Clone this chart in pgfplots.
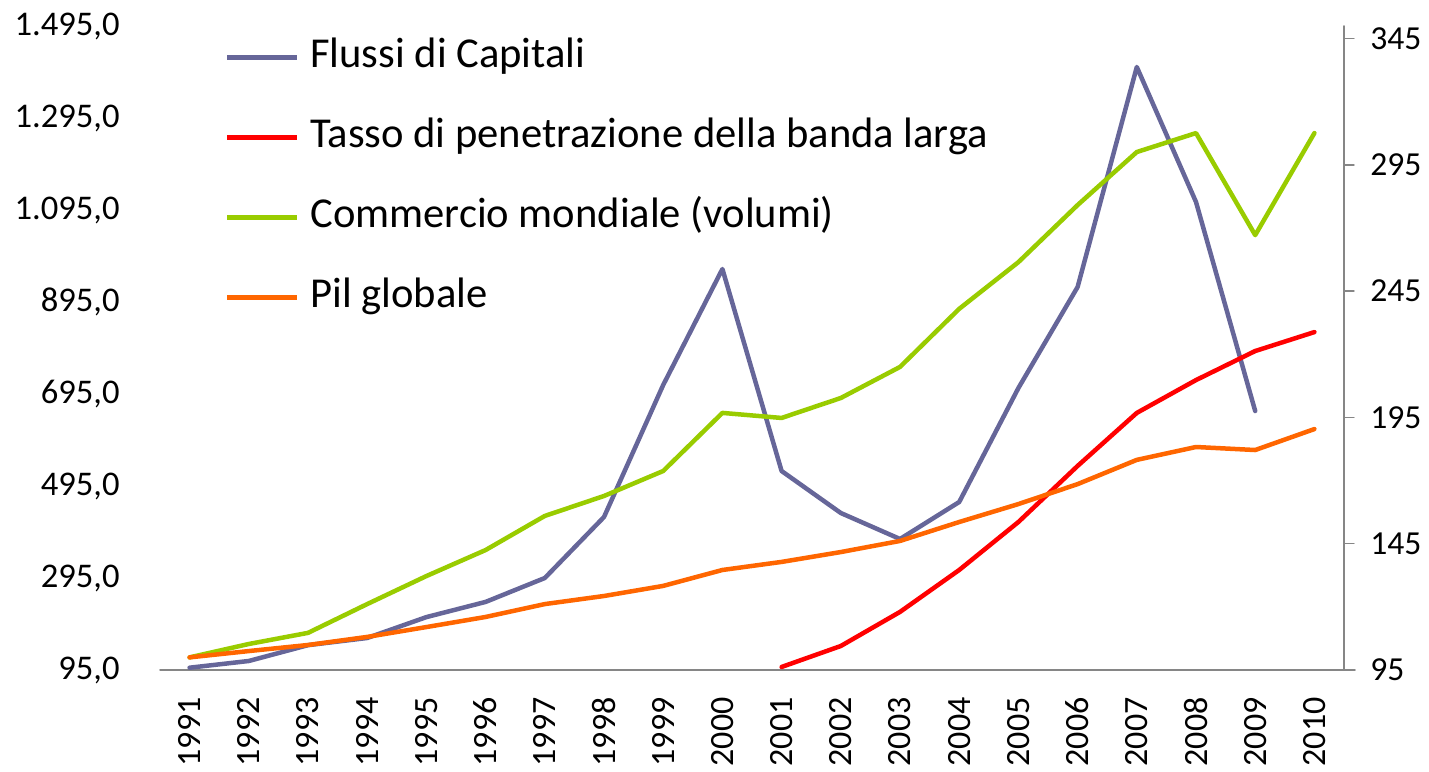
\documentclass[border=0pt]{standalone}
\usepackage{fontspec}
\setmainfont{Carlito}
\usepackage{pgfplots}
\pgfplotsset{compat=1.18}
\definecolor{cflussi}{RGB}{102,102,153}
\definecolor{ctasso}{RGB}{255,0,0}
\definecolor{ccomm}{RGB}{153,204,0}
\definecolor{cpil}{RGB}{255,102,0}
\definecolor{caxis}{RGB}{134,134,134}
\begin{document}
\begin{tikzpicture}
\begin{axis}[
  at={(0pt,0pt)}, anchor=south west,
  scale only axis, width=592pt, height=322pt,
  xmin=1990.5, xmax=2010.5, ymin=95, ymax=1495,
  axis x line*=bottom, axis y line*=left,
  x axis line style={caxis, line width=0.75pt, shorten >=-5.5pt, -},
  y axis line style={draw=none},
  major tick length=0pt,
  xtick={1991,...,2010},
  ytick={95,295,...,1495},
  scaled y ticks=false,
  tick style={draw=none},
  xticklabel style={rotate=90, anchor=east, inner sep=0pt, xshift=-13.5pt, font=\fontsize{17}{19}\selectfont},
  xticklabel={\pgfmathprintnumber[fixed,1000 sep={}]{\tick}},
  yticklabel style={anchor=east, inner sep=0pt, xshift=-20pt, font=\fontsize{17.3}{19}\selectfont},
  /pgf/number format/assume math mode=true,
  y tick label style={/pgf/number format/.cd, fixed, fixed zerofill, precision=1, use comma, 1000 sep={.}},
  line join=round, line cap=round,
]
\addplot[cflussi, line width=2.25pt] coordinates {
(1991,100) (1992,114.6) (1993,149) (1994,164.6) (1995,210) (1996,243) (1997,295)
(1998,427.6) (1999,714.6) (2000,966.7) (2001,527.6) (2002,436.3) (2003,379.8)
(2004,460.2) (2005,708) (2006,927.6) (2007,1405.9) (2008,1112.4) (2009,658)
};
\end{axis}
\begin{axis}[
  at={(0pt,0pt)}, anchor=south west,
  scale only axis, width=592pt, height=322pt,
  xmin=1990.5, xmax=2010.5, ymin=95, ymax=350,
  axis x line=none, axis y line*=right,
  y axis line style={caxis, line width=0.75pt, -},
  ytick={95,145,...,345},
  tick align=outside, major tick length=5pt,
  ytick style={caxis, line width=0.75pt},
  yticklabel style={anchor=west, inner sep=0pt, xshift=8pt, font=\fontsize{16.8}{19}\selectfont},
  /pgf/number format/assume math mode=true,
  line join=round, line cap=round,
  legend style={at={(0.0549,0.9825)}, anchor=north west, draw=none, fill=none,
    inner sep=0pt, outer sep=0pt, row sep=20pt, column sep=5.5pt,
    font=\fontsize{21.3}{24}\selectfont,
    nodes={inner sep=0pt, text height=15pt, text depth=5pt}},
  legend cell align=left,
  legend image code/.code={\draw[#1] (1.1pt,0pt) -- (36pt,0pt);},
]
\addlegendimage{cflussi, line width=2.25pt}
\addlegendentry{Flussi di Capitali}
\addplot[ctasso, line width=2.25pt] coordinates {
(2001,96.2) (2002,104.5) (2003,118) (2004,134.6) (2005,153.6) (2006,175.8)
(2007,196.8) (2008,209.8) (2009,221.3) (2010,228.8)
};
\addlegendentry{Tasso di penetrazione della banda larga}
\addplot[ccomm, line width=2.25pt] coordinates {
(1991,100) (1992,105.3) (1993,109.7) (1994,121.1) (1995,132.2) (1996,142.5)
(1997,156) (1998,163.9) (1999,173.8) (2000,196.8) (2001,194.8) (2002,202.7)
(2003,215) (2004,238) (2005,256.5) (2006,279.1) (2007,300.1) (2008,307.6)
(2009,267.2) (2010,307.6)
};
\addlegendentry{Commercio mondiale (volumi)}
\addplot[cpil, line width=2.25pt] coordinates {
(1991,100) (1992,102.5) (1993,104.9) (1994,108.1) (1995,112) (1996,116)
(1997,121.1) (1998,124.3) (1999,128.3) (2000,134.6) (2001,137.8) (2002,141.7)
(2003,146.1) (2004,153.6) (2005,160.7) (2006,168.6) (2007,178.2) (2008,183.3)
(2009,182.1) (2010,190.4)
};
\addlegendentry{Pil globale}
\end{axis}
\pgfresetboundingbox
\useasboundingbox (-80pt,-50.5pt) rectangle (634.5pt,335pt);
\end{tikzpicture}
\end{document}
